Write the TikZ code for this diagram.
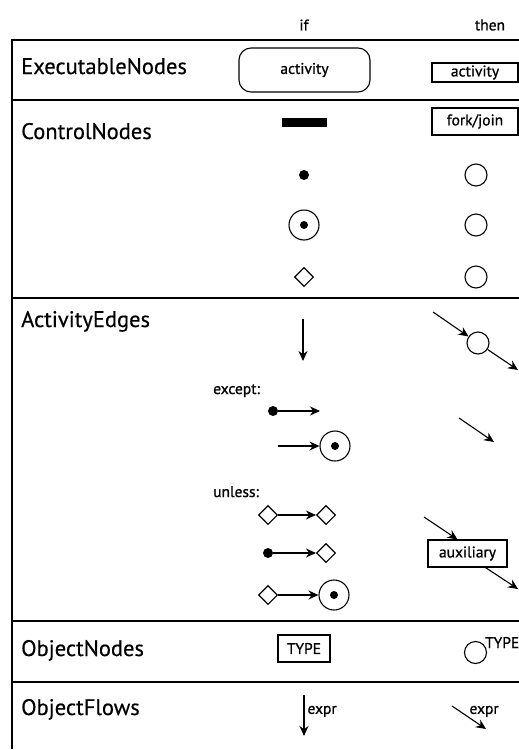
\documentclass[tikz,border=0pt]{standalone}
\usepackage{fontspec}
\setmainfont{PT Sans}
\newfontfamily\heavysans{PT Sans}[FakeBold=0.9]
\newfontfamily\rowsans{PT Sans}[FakeBold=0.4]
\usetikzlibrary{arrows.meta,shapes.geometric}

\begin{document}
\begin{tikzpicture}[x=1pt,y=-1pt,
  rowlabel/.style={font=\rowsans\fontsize{22.5}{24}\selectfont,anchor=base west,inner sep=0pt},
  small/.style={font=\heavysans\fontsize{15.5}{17}\selectfont},
  box/.style={draw,line width=1.1pt,small,inner sep=0pt},
  flow/.style={line width=1.1pt,-{Stealth[length=10pt,width=9pt]}},
  dot/.style={circle,fill,inner sep=0pt,minimum size=10pt},
  pin/.style={circle,draw,line width=1.1pt,inner sep=0pt,minimum size=22pt},
  final/.style={circle,draw,line width=1.1pt,inner sep=0pt,minimum size=30pt,
    path picture={\fill (path picture bounding box.center) circle (4pt);}},
  choice/.style={diamond,draw,line width=1.1pt,inner sep=0pt,minimum size=19pt}]
\useasboundingbox (0,0) rectangle (519,750);

\draw[line width=1.4pt] (12,749) -- (12,40) -- (519,40);
\foreach \y in {100,298,621,682}
  \draw[line width=1.4pt] (12,\y) -- (519,\y);

\node[small] (if) at (304,25) {if};
\node[small] (then) at (490,25) {then};

\node[rowlabel] (exec) at (21,74) {ExecutableNodes};
\node[rowlabel] (ctrl) at (21,139) {ControlNodes};
\node[rowlabel] (edges) at (21,327) {ActivityEdges};
\node[rowlabel] (objn) at (21,656) {ObjectNodes};
\node[rowlabel] (objf) at (21,715) {ObjectFlows};

\node[box,rounded corners=12pt,minimum width=131pt,minimum height=44pt] (act) at (304.5,70) {activity};
\node[box,minimum width=86pt,minimum height=19pt] (actT) at (475,72.5) {activity};

\node[fill,minimum width=45pt,minimum height=9pt,inner sep=0pt] (fork) at (304.5,122.5) {};
\node[box,minimum width=86pt,minimum height=27pt] (forkT) at (475,121.5) {fork/join};
\node[dot] (init) at (304,175) {};
\node[pin] (initT) at (476,175) {};
\node[final] (fin) at (304,225) {};
\node[pin] (finT) at (476,225) {};
\node[choice] (dec) at (304,277) {};
\node[pin] (decT) at (476,277) {};

\coordinate (e1) at (303,319);
\coordinate (e2) at (303,361);
\draw[flow] (e1) -- (e2);
\coordinate (p1) at (433,312);
\node[pin] (mid) at (478,343) {};
\coordinate (p2) at (518,370);
\draw[flow] (p1) -- (mid);
\draw[flow] (mid) -- (p2);

\node[small,anchor=base west,inner sep=0pt] (except) at (213,394) {except:};
\node[dot] (x1) at (273,411) {};
\coordinate (x2) at (320,411);
\draw[flow] (x1) -- (x2);
\coordinate (q1) at (459,418);
\coordinate (q2) at (494,442);
\draw[flow] (q1) -- (q2);
\coordinate (x3) at (278,446);
\node[final] (x4) at (335,446) {};
\draw[flow] (x3) -- (x4);

\node[small,anchor=base west,inner sep=0pt] (unless) at (213,497) {unless:};
\node[choice] (u1) at (268,515) {};
\node[choice] (u2) at (326,515) {};
\draw[flow] (u1) -- (u2);
\node[dot] (u3) at (268,553) {};
\node[choice] (u4) at (326,553) {};
\draw[flow] (u3) -- (u4);
\node[choice] (u5) at (268,595) {};
\node[final] (u6) at (334,595) {};
\draw[flow] (u5) -- (u6);

\coordinate (a1) at (424,517);
\node[box,minimum width=79pt,minimum height=27pt] (aux) at (467.5,553.5) {auxiliary};
\coordinate (a2) at (518,589);
\draw[flow] (a1) -- ([xshift=-10pt]aux.north);
\draw[flow] ([xshift=18pt]aux.south) -- (a2);

\node[box,minimum width=52pt,minimum height=27pt] (type) at (304,648.5) {TYPE};
\node[pin] (typeT) at (475.5,652.5) {};
\node[small,anchor=base west,inner sep=0pt] (typeL) at (485,648) {TYPE};

\coordinate (o1) at (304,695);
\coordinate (o2) at (304,736);
\draw[flow] (o1) -- (o2) node[pos=0.4,right,small,inner sep=3pt] {expr};
\coordinate (o3) at (452,706);
\coordinate (o4) at (486,729);
\draw[flow] (o3) -- (o4) node[pos=0.5,anchor=south west,small,inner sep=0pt] {expr};
\end{tikzpicture}
\end{document}
